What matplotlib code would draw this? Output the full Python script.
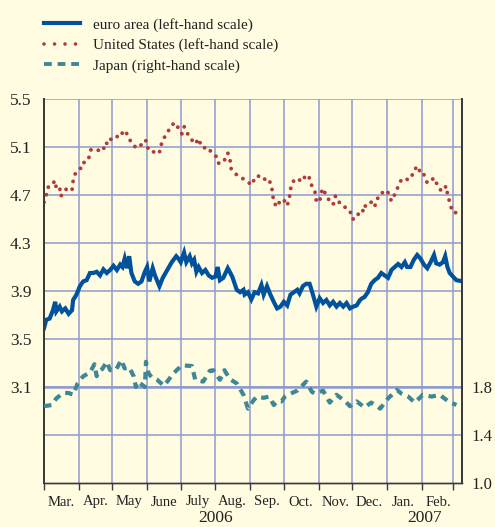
import numpy as np
import matplotlib
matplotlib.use("Agg")
import matplotlib.pyplot as plt
import matplotlib.dates as mdates
from matplotlib.lines import Line2D

# ---------------- data (days since 1 March 2006) ----------------
us_days = [0, 2, 4, 6, 10, 11, 14, 15, 18, 20, 23, 25, 26, 28, 32, 35, 36, 38, 40, 42,
           45, 48, 51, 53, 55, 57, 60, 62, 64, 68, 71, 74, 76, 79, 83, 86, 90, 92, 93, 96,
           101, 104, 105, 108, 112, 115, 118, 120, 123, 125, 127, 130, 135, 138, 139, 142,
           146, 149, 155, 156, 161, 164, 166, 167, 171, 177, 181, 186, 188, 193, 196, 200,
           203, 204, 205, 208, 211, 214, 217, 219, 220, 222, 226, 230, 234, 237, 239, 242,
           243, 246, 247, 249, 252, 255, 258, 260, 262, 264, 270, 273, 275, 278, 281, 283,
           286, 287, 292, 295, 297, 300, 303, 307, 310, 313, 316, 319, 322, 325, 328, 330,
           334, 336, 339, 342, 346, 349, 351, 355, 359, 360, 362, 363, 364, 366, 370]
us_vals = [4.64, 4.70, 4.77, 4.775, 4.82, 4.75, 4.76, 4.69, 4.73, 4.75, 4.755, 4.74, 4.82, 4.88,
           4.92, 4.93, 4.99, 5.00, 5.01, 5.08, 5.075, 5.075, 5.06, 5.08, 5.14, 5.12, 5.17, 5.17,
           5.19, 5.18, 5.24, 5.21, 5.17, 5.12, 5.09, 5.11, 5.16, 5.14, 5.075, 5.07, 5.04, 5.07,
           5.14, 5.19, 5.25, 5.29, 5.30, 5.25, 5.21, 5.27, 5.23, 5.18, 5.125, 5.17, 5.14, 5.09,
           5.10, 5.06, 5.01, 4.96, 4.99, 5.05, 4.99, 4.92, 4.875, 4.84, 4.81, 4.785, 4.85, 4.86,
           4.83, 4.84, 4.78, 4.71, 4.64, 4.60, 4.66, 4.66, 4.61, 4.68, 4.75, 4.81, 4.84, 4.81,
           4.87, 4.84, 4.775, 4.72, 4.65, 4.64, 4.71, 4.755, 4.69, 4.65, 4.62, 4.69, 4.68, 4.625,
           4.59, 4.57, 4.50, 4.50, 4.55, 4.58, 4.56, 4.625, 4.64, 4.60, 4.67, 4.68, 4.74, 4.72,
           4.65, 4.705, 4.77, 4.83, 4.84, 4.825, 4.85, 4.91, 4.94, 4.87, 4.87, 4.80, 4.83, 4.84,
           4.775, 4.73, 4.775, 4.71, 4.64, 4.61, 4.57, 4.55, 4.56]

euro_days = [0, 2, 5, 8, 10, 11, 14, 16, 19, 22, 25, 26, 29, 32, 35, 38, 41, 44, 47, 50,
             53, 56, 59, 62, 65, 68, 70, 72, 74, 76, 78, 81, 84, 87, 90, 92, 94, 97, 99, 103,
             106, 110, 114, 118, 120, 122, 125, 127, 130, 132, 134, 136, 138, 141, 144, 147,
             150, 153, 155, 157, 160, 164, 168, 172, 175, 178, 179, 182, 185, 188, 191, 194,
             196, 199, 202, 205, 208, 211, 214, 217, 220, 223, 226, 228, 231, 234, 237, 240,
             243, 246, 249, 252, 255, 258, 261, 264, 267, 270, 273, 276, 279, 282, 284, 286,
             289, 292, 295, 298, 301, 304, 307, 309, 310, 313, 316, 319, 322, 324, 327, 330,
             333, 336, 339, 342, 345, 348, 350, 353, 356, 358, 360, 362, 365, 368, 371]
euro_vals = [3.59, 3.66, 3.67, 3.74, 3.81, 3.73, 3.77, 3.73, 3.755, 3.71, 3.74, 3.825, 3.87,
             3.94, 3.98, 3.99, 4.05, 4.05, 4.06, 4.03, 4.08, 4.05, 4.075, 4.11, 4.075, 4.12,
             4.10, 4.17, 4.09, 4.19, 4.05, 3.98, 3.96, 3.98, 4.06, 4.10, 3.98, 4.09, 4.03, 3.94,
             4.01, 4.075, 4.14, 4.19, 4.17, 4.14, 4.22, 4.14, 4.19, 4.13, 4.16, 4.06, 4.10, 4.05,
             4.075, 4.03, 4.01, 4.02, 4.10, 3.99, 4.01, 4.09, 4.02, 3.91, 3.89, 3.91, 3.87, 3.89,
             3.83, 3.89, 3.88, 3.95, 3.87, 3.94, 3.87, 3.81, 3.755, 3.77, 3.81, 3.78, 3.87, 3.89,
             3.91, 3.88, 3.94, 3.96, 3.96, 3.87, 3.77, 3.84, 3.80, 3.825, 3.78, 3.81, 3.77, 3.80,
             3.77, 3.80, 3.755, 3.77, 3.78, 3.825, 3.84, 3.85, 3.89, 3.96, 3.99, 4.01, 4.05, 4.03,
             4.01, 4.05, 4.075, 4.10, 4.125, 4.10, 4.14, 4.10, 4.10, 4.16, 4.20, 4.17, 4.12, 4.09,
             4.14, 4.20, 4.13, 4.12, 4.14, 4.19, 4.10, 4.05, 4.02, 3.99, 3.985]

japan_days = [0, 7, 11, 17, 22, 26, 30, 35, 41, 45, 47, 49, 52, 56, 59, 64, 69, 72, 76, 80,
              82, 84, 90, 91, 93, 96, 101, 107, 112, 115, 123, 132, 135, 142, 148, 151, 157,
              161, 166, 172, 178, 182, 187, 190, 196, 201, 205, 209, 212, 215, 220, 226, 234,
              239, 242, 249, 255, 261, 269, 273, 279, 286, 292, 300, 307, 315, 319, 325, 331,
              338, 346, 353, 361, 368]
japan_vals = [1.64, 1.65, 1.705, 1.75, 1.75, 1.735, 1.83, 1.89, 1.92, 1.99, 1.89, 1.93, 1.95,
              2.01, 1.94, 1.94, 2.025, 1.955, 1.965, 1.89, 1.80, 1.845, 1.80, 2.01, 1.92, 1.88,
              1.86, 1.81, 1.87, 1.91, 1.98, 1.975, 1.86, 1.845, 1.935, 1.94, 1.86, 1.94, 1.865,
              1.83, 1.735, 1.62, 1.69, 1.72, 1.71, 1.72, 1.65, 1.685, 1.68, 1.72, 1.745, 1.77,
              1.845, 1.76, 1.745, 1.77, 1.67, 1.735, 1.68, 1.64, 1.68, 1.63, 1.67, 1.62, 1.705,
              1.775, 1.745, 1.72, 1.67, 1.735, 1.72, 1.735, 1.68, 1.65]

month_labels = ["Mar.", "Apr.", "May", "June", "July", "Aug.", "Sep.", "Oct.", "Nov.",
                "Dec.", "Jan.", "Feb."]
year_labels = ["2006", "2007"]
left_ticks = [3.1, 3.5, 3.9, 4.3, 4.7, 5.1, 5.5]
right_ticks = [1.0, 1.4, 1.8]
series_labels = ["euro area (left-hand scale)", "United States (left-hand scale)",
                 "Japan (right-hand scale)"]

# ---------------- style ----------------
BG = "#FFFCE1"
GRID = "#8E9BD0"
SPINE = "#3A3A3A"
C_EURO = "#00529C"
C_US = "#B23A3A"
C_JP = "#3F8796"
TXT = "#222222"
plt.rcParams["font.family"] = ["Liberation Serif", "DejaVu Serif"]

base = np.datetime64("2006-03-01")
def to_dates(days):
    return base + np.array(days, dtype="timedelta64[D]")

fig = plt.figure(figsize=(4.95, 5.27), dpi=100, facecolor=BG)
ax = fig.add_axes([44 / 495, 1 - 483 / 527, (462 - 44) / 495, (483 - 99) / 527])
ax.set_facecolor(BG)
ax2 = ax.twinx()

x0 = mdates.date2num(base)
x1 = x0 + 373
ax.set_xlim(x0, x1)
ax.set_ylim(2.3, 5.5)
ax2.set_ylim(1.0, 4.2)

# grid
for v in np.arange(2.7, 5.51, 0.4):
    ax.axhline(v, color=GRID, lw=1.1, zorder=1)
ax.axhline(3.1, color=GRID, lw=1.8, zorder=1)
month_starts = np.arange(np.datetime64("2006-04"), np.datetime64("2007-04"),
                         np.timedelta64(1, "M")).astype("datetime64[D]")
for m in month_starts:
    ax.axvline(mdates.date2num(m), color=GRID, lw=1.1, zorder=1)

# series
ax.plot(to_dates(euro_days), euro_vals, color=C_EURO, lw=3.0, zorder=4,
        solid_joinstyle="miter")
ax.plot(to_dates(us_days), us_vals, color=C_US, lw=2.8, zorder=4,
        linestyle=(0, (0.01, 2.0)), dash_capstyle="round")
ax2.plot(to_dates(japan_days), japan_vals, color=C_JP, lw=3.0, zorder=4,
         linestyle=(0, (1.8, 1.4)))

# axes styling
for a in (ax, ax2):
    a.spines["top"].set_visible(False)
    a.spines["left"].set_color(SPINE)
    a.spines["right"].set_color(SPINE)
    a.spines["bottom"].set_color(SPINE)
    a.spines["left"].set_linewidth(1.3)
    a.spines["right"].set_linewidth(1.3)
    a.spines["bottom"].set_linewidth(1.0)

ax.set_yticks(left_ticks)
ax.set_yticklabels([f"{v:.1f}" for v in left_ticks])
ax.tick_params(axis="y", length=0, pad=9, labelsize=12.5, labelcolor=TXT)
ax2.set_yticks(right_ticks)
ax2.set_yticklabels([f"{v:.1f}" for v in right_ticks])
ax2.tick_params(axis="y", length=0, pad=7, labelsize=12, labelcolor=TXT)

all_starts = np.concatenate([[base], month_starts])
ax.set_xticks([mdates.date2num(m) for m in all_starts])
ax.set_xticklabels([])
ax.tick_params(axis="x", which="major", direction="out", length=5, width=1.0,
               color=SPINE)
mids = [mdates.date2num(m) + 15 for m in all_starts[:12]]
ax.set_xticks(mids, minor=True)
ax.set_xticklabels(month_labels, minor=True)
ax.tick_params(axis="x", which="minor", length=0, pad=9, labelsize=10.5,
               labelcolor=TXT)

# year labels centred under their span
dec_end = mdates.date2num(np.datetime64("2007-01-01"))
for lab, (a0, a1) in zip(year_labels, [(x0, dec_end), (dec_end, x1)]):
    ax.text((a0 + a1) / 2, -0.092, lab, transform=ax.get_xaxis_transform(),
            ha="center", va="center", fontsize=12.5, color=TXT)

# legend
handles = [Line2D([], [], color=C_EURO, lw=3.0),
           Line2D([], [], color=C_US, lw=2.6, linestyle=(0, (0.01, 2.9)),
                  dash_capstyle="round"),
           Line2D([], [], color=C_JP, lw=2.8, linestyle=(0, (2.0, 1.5)))]
fig.legend(handles, series_labels, loc="upper left",
           bbox_to_anchor=(44 / 495, 1 - 18 / 527), frameon=False, fontsize=11,
           handlelength=2.36, handletextpad=0.85, labelspacing=0.42, borderpad=0,
           borderaxespad=0, labelcolor=TXT)

fig.savefig("out.png", dpi=100, facecolor=BG)
